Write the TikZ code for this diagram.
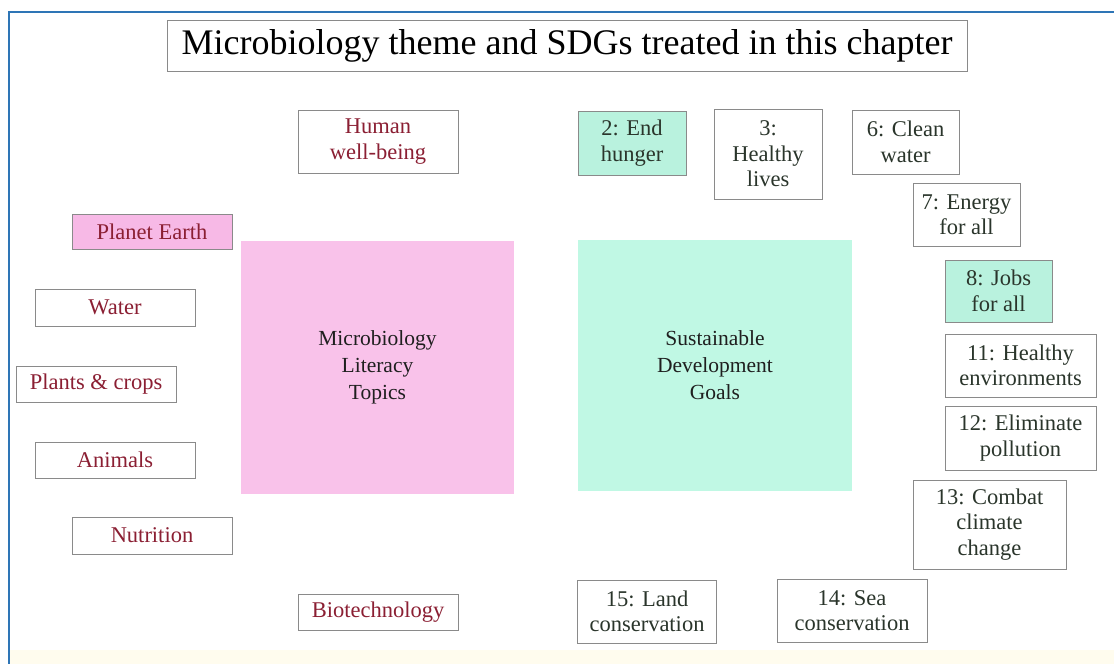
\documentclass[tikz,border=0pt]{standalone}
\usepackage{fontspec}
\setmainfont{Liberation Serif}
\definecolor{frameblue}{HTML}{2E75B6}
\definecolor{bordergray}{HTML}{8A8A8A}
\definecolor{labred}{HTML}{8B1F33}
\definecolor{sdgtext}{HTML}{2A352B}
\definecolor{pinkbig}{HTML}{F9C2EA}
\definecolor{pinklab}{HTML}{F7B9E6}
\definecolor{greenbig}{HTML}{C0F8E4}
\definecolor{greenlab}{HTML}{B9F2DE}
\definecolor{paleyellow}{HTML}{FFFCEE}
\tikzset{
  box/.style={draw=bordergray, line width=0.9pt, inner sep=0pt, align=center},
  lbox/.style={box, text=labred, font=\fontsize{22.5}{26}\selectfont},
  sbox/.style={box, text=sdgtext, font=\fontsize{22.5}{25.5}\selectfont},
  bigbox/.style={inner sep=0pt, align=center, text=black!88, font=\fontsize{21.5}{27}\selectfont},
  titlebox/.style={box, font=\fontsize{36}{40}\selectfont}
}
\begin{document}
\begin{tikzpicture}[x=1pt,y=1pt]
\useasboundingbox (0,0) rectangle (1114,-664);
\fill[white] (0,0) rectangle (1114,-664);
\fill[paleyellow] (10,-650) rectangle (1114,-664);
\draw[frameblue, line width=2.2pt] (9,-664) -- (9,-12) -- (1114,-12);

\node[titlebox, minimum width=800pt, minimum height=51pt] (title) at (567,-45.5) {Microbiology theme and SDGs treated in this chapter};

% left topics
\node[lbox, minimum width=160pt, minimum height=63pt] (human) at (378,-141.5) {Human\\well-being};
\node[lbox, fill=pinklab, minimum width=160pt, minimum height=35pt] (planet) at (152,-231.5) {Planet Earth};
\node[lbox, minimum width=160pt, minimum height=37pt] (water) at (115,-307.5) {Water};
\node[lbox, minimum width=160pt, minimum height=36pt] (plants) at (96,-384) {Plants \& crops};
\node[lbox, minimum width=160pt, minimum height=36pt] (animals) at (115,-460) {Animals};
\node[lbox, minimum width=160pt, minimum height=37pt] (nutrition) at (152,-535.5) {Nutrition};
\node[lbox, minimum width=160pt, minimum height=36pt] (biotech) at (378,-612) {Biotechnology};

% big boxes
\node[bigbox, fill=pinkbig, minimum width=273pt, minimum height=253pt] (mlt) at (377.5,-367.5) {Microbiology\\Literacy\\Topics};
\node[bigbox, fill=greenbig, minimum width=274pt, minimum height=251pt] (sdg) at (715,-365.5) {Sustainable\\Development\\Goals};

% SDGs
\node[sbox, fill=greenlab, minimum width=108pt, minimum height=64pt] (g2) at (632,-143) {2: End\\hunger};
\node[sbox, minimum width=108pt, minimum height=90pt] (g3) at (768,-154) {3:\\Healthy\\lives};
\node[sbox, minimum width=107pt, minimum height=64pt] (g6) at (905.5,-142) {6: Clean\\water};
\node[sbox, minimum width=107pt, minimum height=63pt] (g7) at (966.5,-214.5) {7: Energy\\for all};
\node[sbox, fill=greenlab, minimum width=107pt, minimum height=62pt] (g8) at (998.5,-291) {8: Jobs\\for all};
\node[sbox, minimum width=151pt, minimum height=63pt] (g11) at (1020.5,-365.5) {11: Healthy\\environments};
\node[sbox, minimum width=151pt, minimum height=64pt] (g12) at (1020.5,-438) {12: Eliminate\\pollution};
\node[sbox, minimum width=153pt, minimum height=89pt] (g13) at (989.5,-524.5) {13: Combat\\climate\\change};
\node[sbox, minimum width=139pt, minimum height=63pt] (g15) at (647,-611.5) {15: Land\\conservation};
\node[sbox, minimum width=150pt, minimum height=63pt] (g14) at (852,-610.5) {14: Sea\\conservation};
\end{tikzpicture}
\end{document}
